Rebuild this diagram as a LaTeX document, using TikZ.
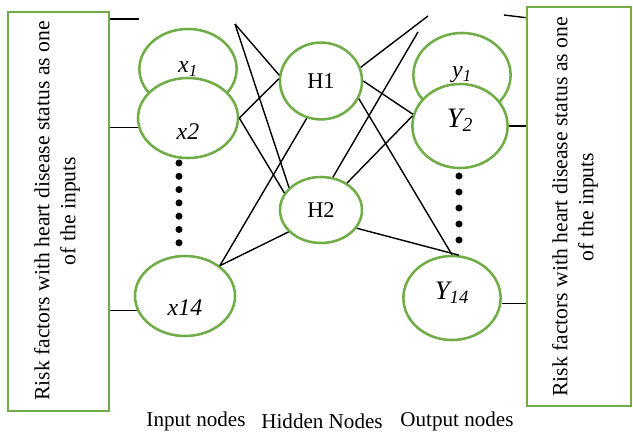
\documentclass[tikz,border=0pt]{standalone}
\usepackage{fontspec}
\setmainfont{Liberation Serif}
\usepackage{xcolor}
\definecolor{NNgreen}{HTML}{70AD47}
\usetikzlibrary{shapes.geometric, positioning}

\begin{document}
\begin{tikzpicture}[x=0.025cm, y=-0.025cm]
\tikzset{
  neuron/.style={draw=NNgreen, line width=1.8pt, ellipse, fill=white, inner sep=0pt},
  panel/.style={draw=NNgreen, line width=1.8pt, rectangle, inner sep=0pt},
  paneltext/.style={rotate=90, align=center, font=\fontsize{15.4}{18.5}\selectfont},
  lbl/.style={font=\fontsize{17}{20}\selectfont\itshape},
  hid/.style={font=\fontsize{16}{19}\selectfont},
  link/.style={black, line width=1pt},
  caption/.style={font=\fontsize{15}{18}\selectfont},
}
  \useasboundingbox (0,0) rectangle (633,433);

  % Side panels
  \node[panel, minimum width=2.525cm, minimum height=9.975cm] (lbox) at (58.5,211.5) {};
  \node[paneltext] (ltext) at (57,211)
    {Risk factors with heart disease status as one\\of the inputs};
  \node[panel, minimum width=2.6cm, minimum height=9.975cm] (rbox) at (579,206.5) {};
  \node[paneltext] (rtext) at (575,207)
    {Risk factors with heart disease status as one\\of the inputs};

  % Input nodes
  \node[neuron, minimum width=2.43cm, minimum height=2cm,
    label={[lbl]center:x\textsubscript{1}}] (x1) at (188,69) {};
  \node[neuron, minimum width=2.5cm, minimum height=2cm,
    label={[lbl, yshift=-0.33cm]center:x2}] (x2) at (188,118) {};
  \node[neuron, minimum width=2.5cm, minimum height=2cm,
    label={[lbl, yshift=-0.28cm]center:x14}] (x14) at (185,296) {};

  % Hidden nodes
  \node[neuron, hid, minimum width=2.05cm, minimum height=1.92cm] (H1) at (321,81) {H1};
  \node[neuron, hid, minimum width=2.05cm, minimum height=1.65cm] (H2) at (321,210) {H2};

  % Output nodes
  \node[neuron, minimum width=2.43cm, minimum height=2.1cm,
    label={[lbl]center:y\textsubscript{1}}] (y1) at (462,75) {};
  \node[neuron, minimum width=2.38cm, minimum height=2.1cm,
    label={[lbl, font=\fontsize{20}{24}\selectfont\itshape, yshift=0.15cm]center:Y\textsubscript{2}}] (Y2) at (460,126) {};
  \node[neuron, minimum width=2.43cm, minimum height=2.1cm,
    label={[lbl, font=\fontsize{19}{22}\selectfont\itshape, yshift=0.12cm]center:Y\textsubscript{14}}] (Y14) at (452,298) {};

  % Dots between nodes
  \foreach \i in {0,...,6}
    \fill (179,163+13.3*\i) circle (2.5pt);
  \foreach \i in {0,...,4}
    \fill (459,176+16*\i) circle (2.5pt);

  % Loose line ends
  \coordinate (in1) at (139,19);
  \coordinate (t1) at (235,24);
  \coordinate (t2) at (428,16);
  \coordinate (t3) at (418,32);
  \coordinate (out1) at (504,15);

  % Panels to nodes
  \draw[link] (lbox.east |- in1) -- (in1);
  \draw[link] (lbox.east |- x2.191) -- (x2.191);
  \draw[link] (lbox.east |- x14.197) -- (x14.197);
  \draw[link] (out1) -- ([yshift=-0.3cm]rbox.north west);
  \draw[link] (Y2.east) -- (rbox.west |- Y2.east);
  \draw[link] (Y14.-6) -- (rbox.west |- Y14.-6);

  % Input side links
  \draw[link] (t1) -- (H1.172);
  \draw[link] (t1) -- (H2.145);
  \draw[link] (x2.east) -- (H1.177);
  \draw[link] (x2.east) -- (H2.155);
  \draw[link] (H1.249) -- (x14.41);
  \draw[link] (H2.214) -- (x14.41);

  % Output side links
  \draw[link] (H1.19) -- (t2);
  \draw[link] (t3) -- (H2.70);
  \draw[link] (H1.east) -- (Y2.166);
  \draw[link] (H1.-25) -- (Y14.north);
  \draw[link] (H2.46) -- (Y2.168);
  \draw[link] (H2.-27) -- (Y14.81);

  % Layer captions
  \node[caption] (incap) at (196,421) {Input nodes};
  \node[caption] (hidcap) at (322,421) {Hidden Nodes};
  \node[caption] (outcap) at (457,421) {Output nodes};
\end{tikzpicture}
\end{document}
